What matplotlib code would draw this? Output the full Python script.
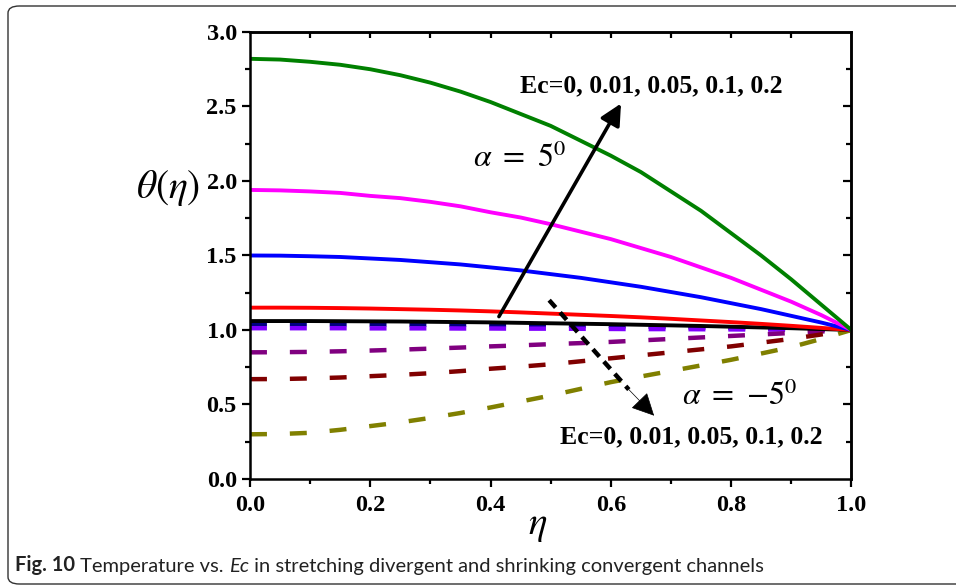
import numpy as np
import matplotlib
matplotlib.use('Agg')
import matplotlib.pyplot as plt
from matplotlib.patches import FancyBboxPatch

plt.rcParams['font.family'] = 'Liberation Serif'
plt.rcParams['mathtext.fontset'] = 'stix'

# ── Data ──────────────────────────────────────────────────────────────
eta = [0.00, 0.05, 0.10, 0.15, 0.20, 0.25, 0.30, 0.35, 0.40, 0.45, 0.50,
       0.55, 0.60, 0.65, 0.70, 0.75, 0.80, 0.85, 0.90, 0.95, 1.00]

# alpha = 5 deg (solid), Ec = 0, 0.01, 0.05, 0.1, 0.2
theta_pos_ec0   = [1.06, 1.06, 1.06, 1.059, 1.058, 1.057, 1.055, 1.053, 1.051, 1.048, 1.045,
                   1.042, 1.039, 1.035, 1.031, 1.027, 1.022, 1.017, 1.012, 1.006, 1.00]
theta_pos_ec001 = [1.15, 1.15, 1.149, 1.147, 1.144, 1.14, 1.136, 1.131, 1.125, 1.118, 1.11,
                   1.102, 1.094, 1.085, 1.075, 1.064, 1.053, 1.041, 1.028, 1.014, 1.00]
theta_pos_ec005 = [1.50, 1.499, 1.495, 1.49, 1.48, 1.47, 1.455, 1.44, 1.42, 1.40, 1.375,
                   1.35, 1.32, 1.29, 1.255, 1.22, 1.18, 1.14, 1.095, 1.05, 1.00]
theta_pos_ec01  = [1.94, 1.937, 1.93, 1.92, 1.90, 1.885, 1.86, 1.83, 1.79, 1.755, 1.71,
                   1.66, 1.61, 1.55, 1.49, 1.42, 1.35, 1.27, 1.19, 1.10, 1.00]
theta_pos_ec02  = [2.82, 2.815, 2.80, 2.78, 2.75, 2.71, 2.66, 2.60, 2.53, 2.45, 2.37,
                   2.27, 2.17, 2.06, 1.93, 1.80, 1.65, 1.50, 1.34, 1.17, 1.00]

# alpha = -5 deg (dashed), Ec = 0, 0.01, 0.05, 0.1, 0.2
theta_neg_ec0   = [1.04, 1.04, 1.04, 1.039, 1.038, 1.037, 1.036, 1.035, 1.034, 1.032, 1.03,
                   1.028, 1.026, 1.023, 1.02, 1.017, 1.014, 1.011, 1.008, 1.004, 1.00]
theta_neg_ec001 = [1.012, 1.012, 1.012, 1.012, 1.011, 1.011, 1.011, 1.010, 1.010, 1.009, 1.009,
                   1.008, 1.007, 1.006, 1.006, 1.005, 1.004, 1.003, 1.002, 1.001, 1.00]
theta_neg_ec005 = [0.85, 0.851, 0.853, 0.857, 0.862, 0.868, 0.875, 0.882, 0.89, 0.897, 0.905,
                   0.912, 0.92, 0.93, 0.94, 0.95, 0.96, 0.97, 0.98, 0.99, 1.00]
theta_neg_ec01  = [0.67, 0.671, 0.675, 0.681, 0.69, 0.699, 0.71, 0.724, 0.74, 0.754, 0.77,
                   0.79, 0.81, 0.83, 0.85, 0.87, 0.89, 0.915, 0.94, 0.97, 1.00]
theta_neg_ec02  = [0.30, 0.302, 0.31, 0.33, 0.355, 0.38, 0.41, 0.443, 0.48, 0.52, 0.56,
                   0.605, 0.65, 0.688, 0.725, 0.762, 0.80, 0.842, 0.885, 0.94, 1.00]

solid_series = [theta_pos_ec0, theta_pos_ec001, theta_pos_ec005, theta_pos_ec01, theta_pos_ec02]
solid_colors = ['#000000', '#ff0000', '#0000ff', '#ff00ff', '#008000']
dashed_series = [theta_neg_ec0, theta_neg_ec001, theta_neg_ec005, theta_neg_ec01, theta_neg_ec02]
dashed_colors = ['#000080', '#8000ff', '#800080', '#800000', '#808000']

ec_label = 'Ec=0, 0.01, 0.05, 0.1, 0.2'

# ── Figure ────────────────────────────────────────────────────────────
fig = plt.figure(figsize=(9.56, 5.87), dpi=100)
ax = fig.add_axes([0.2615, 0.1840, 0.6290, 0.7615])

dlw = 3.2
for ys, c in zip(dashed_series, dashed_colors):
    ax.plot(eta, ys, color=c, lw=dlw, dashes=(12.2 / dlw, 16.5 / dlw),
            dash_capstyle='butt')
for ys, c in zip(solid_series, solid_colors):
    ax.plot(eta, ys, color=c, lw=2.8)

ax.set_xlim(0, 1)
ax.set_ylim(0, 3)
ax.set_xticks(np.arange(0, 1.01, 0.2))
ax.set_yticks(np.arange(0, 3.01, 0.5))
ax.set_xticks(np.arange(0.1, 1.0, 0.2), minor=True)
ax.set_yticks(np.arange(0.25, 3.0, 0.5), minor=True)
ax.xaxis.set_major_formatter(plt.FuncFormatter(lambda v, _: f'{v:.1f}'))
ax.yaxis.set_major_formatter(plt.FuncFormatter(lambda v, _: f'{v:.1f}'))
for s in ax.spines.values():
    s.set_linewidth(1.8)
ax.tick_params(which='both', direction='out', width=1.6, right=False,
               top=False, labelsize=17.5)
ax.tick_params(which='major', length=5.5)
ax.tick_params(which='minor', length=3.5)
ax.tick_params(axis='y', pad=4)
ax.tick_params(axis='x', pad=6)
for lab in ax.get_xticklabels() + ax.get_yticklabels():
    lab.set_fontweight('bold')

top = ax.secondary_xaxis('top')
top.set_xticks(np.arange(0.1, 1.0, 0.1))
top.tick_params(direction='in', length=4, width=1.6, labeltop=False)
top.spines['top'].set_linewidth(1.8)

right = ax.secondary_yaxis('right')
right.set_yticks(np.arange(0.5, 3.0, 0.5))
right.set_yticks(np.arange(0.25, 3.0, 0.5), minor=True)
right.tick_params(which='both', direction='in', width=1.6, labelright=False)
right.tick_params(which='major', length=6)
right.tick_params(which='minor', length=3.5)
right.spines['right'].set_linewidth(1.8)

# ── Arrows & annotations ──────────────────────────────────────────────
ax.annotate('', xy=(0.617, 2.52), xytext=(0.414, 1.09),
            arrowprops=dict(arrowstyle='-|>', color='k', lw=2.6,
                            mutation_scale=32, shrinkA=0, shrinkB=0))
neg_tail = (0.4975, 1.20)
neg_tip = (0.672, 0.425)
neg_base = (0.630, 0.60)
ax.plot([neg_tail[0], neg_base[0]], [neg_tail[1], neg_base[1]], color='k',
        lw=3.2, dashes=(2.2, 1.5))
ax.annotate('', xy=neg_tip, xytext=neg_base,
            arrowprops=dict(arrowstyle='-|>', color='k', lw=0.5,
                            mutation_scale=36, shrinkA=0, shrinkB=0))

ax.text(0.667, 2.64, ec_label, fontsize=18.5, fontweight='bold',
        ha='center', va='center')
ax.text(0.734, 0.28, ec_label, fontsize=18.5, fontweight='bold',
        ha='center', va='center')
ax.text(0.448, 2.15, r'$\alpha\ =\ 5^0$', fontsize=23, ha='center', va='center')
ax.text(0.815, 0.55, r'$\alpha\ =\ {-}5^0$', fontsize=23, ha='center', va='center')

fig.text(168 / 956, 1 - 188 / 587, r'$\theta(\eta)$', fontsize=28.5,
         ha='center', va='center')
fig.text(538 / 956, 1 - 525 / 587, r'$\eta$', fontsize=28,
         ha='center', va='center')

# ── Frame & caption ───────────────────────────────────────────────────
frame = FancyBboxPatch((8 / 956, 3 / 587), 1.1, 578 / 587,
                       boxstyle='round,pad=0,rounding_size=0.012',
                       transform=fig.transFigure, facecolor='none',
                       edgecolor='#333333', lw=1.0, clip_on=False)
fig.patches.append(frame)

cap_size = 14.5
cap1 = fig.text(15 / 956, 1 - 565 / 587, 'Fig. 10', fontsize=cap_size,
                fontweight='bold', family='Lato', va='center', color='#222222')
fig.canvas.draw()
r = fig.canvas.get_renderer()
bb1 = cap1.get_window_extent(r).transformed(fig.transFigure.inverted())
cap2 = fig.text(bb1.x1, bb1.y0, ' Temperature vs. ', fontsize=cap_size,
                family='Lato', va='bottom', color='#222222')
fig.canvas.draw()
bb2 = cap2.get_window_extent(r).transformed(fig.transFigure.inverted())
cap3 = fig.text(bb2.x1, bb2.y0, 'Ec', fontsize=cap_size, family='Lato',
                style='italic', va='bottom', color='#222222')
fig.canvas.draw()
bb3 = cap3.get_window_extent(r).transformed(fig.transFigure.inverted())
fig.text(bb3.x1, bb3.y0, ' in stretching divergent and shrinking convergent channels',
         fontsize=cap_size, family='Lato', va='bottom', color='#222222')

fig.savefig('out.png', dpi=100)
